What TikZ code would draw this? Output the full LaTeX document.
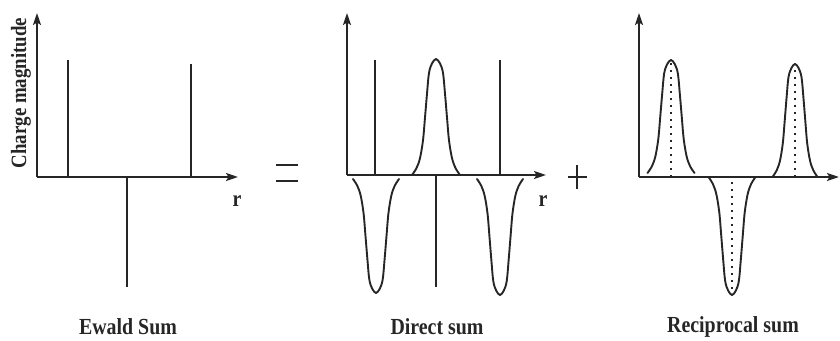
\documentclass[tikz,border=0pt]{standalone}
\usepackage{fontspec}
\setmainfont{Liberation Serif}
\usetikzlibrary{arrows.meta}
\newcommand{\tallbox}[1]{\scalebox{1.02}[1.18]{#1}}
\begin{document}
\begin{tikzpicture}[x=1pt,y=-1pt,
  ink/.style={draw=black!85},
  axis/.style={ink,line width=2pt,-{Stealth[length=12pt,width=8pt,inset=2.5pt]}},
  spike/.style={ink,line width=1.8pt},
  curve/.style={ink,line width=1.9pt,line join=round,line cap=round},
  dots/.style={ink,line width=2pt,dash pattern=on 2pt off 5pt},
  lbl/.style={font=\fontsize{19.5}{23}\selectfont\bfseries,text=black!85,inner sep=0pt},
  bump/.pic={\draw[curve] plot[smooth,tension=0.55] coordinates {(-24,0) (-19.5,7) (-16,17) (-13,35) (-11,58) (-9,82) (-7,103) (-4,112.5) (0,117) (4,112.5) (7,103) (9,82) (11,58) (13,35) (16,17) (19.5,7) (24,0)};}
]
\useasboundingbox (0,0) rectangle (840,340);

% ---------- Panel 1: Ewald sum ----------
\coordinate (o1) at (37,177);
\coordinate (y1) at (37,13);
\coordinate (x1) at (238,177);
\draw[axis] (o1) -- (y1);
\draw[axis] (o1) -- (x1);
\coordinate (a1) at (68,177);  \coordinate (a1t) at (68,60);
\coordinate (b1) at (191,177); \coordinate (b1t) at (191,64);
\coordinate (c1) at (127,177); \coordinate (c1b) at (127,287);
\draw[spike] (a1) -- (a1t);
\draw[spike] (b1) -- (b1t);
\draw[spike] (c1) -- (c1b);
\node[lbl,font=\fontsize{18.5}{22}\selectfont\bfseries,rotate=90] (ylab) at (21,93) {\tallbox{Charge magnitude}};
\node[lbl] (r1) at (237,201) {\tallbox{r}};
\node[lbl] (t1) at (128,327) {\tallbox{Ewald Sum}};

% ---------- equals sign ----------
\coordinate (e1) at (276,165); \coordinate (e2) at (298,165);
\coordinate (e3) at (276,181); \coordinate (e4) at (298,181);
\draw[spike,line width=2pt] (e1) -- (e2);
\draw[spike,line width=2pt] (e3) -- (e4);

% ---------- Panel 2: Direct sum ----------
\coordinate (o2) at (347,175);
\coordinate (y2) at (347,13);
\coordinate (x2) at (546,175);
\draw[axis] (o2) -- (y2);
\draw[axis] (o2) -- (x2);
\coordinate (a2) at (375,175); \coordinate (a2t) at (375,60);
\coordinate (b2) at (500,175); \coordinate (b2t) at (500,60);
\coordinate (c2) at (436,175); \coordinate (c2b) at (436,287);
\draw[spike] (a2) -- (a2t);
\draw[spike] (b2) -- (b2t);
\draw[spike] (c2) -- (c2b);
\pic[xscale=24/24,yscale=-116/117] at (c2) {bump};
\pic[xscale=23/24,yscale=114/117] at (376,179) {bump};
\pic[xscale=23/24,yscale=116/117] at (500,179) {bump};
\node[lbl] (r2) at (543,201) {\tallbox{r}};
\node[lbl] (t2) at (437,327) {\tallbox{Direct sum}};

% ---------- plus sign ----------
\coordinate (p1) at (568,177); \coordinate (p2) at (587,177);
\coordinate (p3) at (577,165); \coordinate (p4) at (577,189);
\draw[spike,line width=2pt] (p1) -- (p2);
\draw[spike,line width=2pt] (p3) -- (p4);

% ---------- Panel 3: Reciprocal sum ----------
\coordinate (o3) at (639,177);
\coordinate (y3) at (639,13);
\coordinate (x3) at (839,177);
\draw[axis] (o3) -- (y3);
\draw[axis] (o3) -- (x3);
\pic[xscale=23.5/24,yscale=-113/117] at (671,173) {bump};
\pic[xscale=22.5/24,yscale=-113/117] at (795,177) {bump};
\pic[xscale=23.5/24,yscale=118/117] at (732,177) {bump};
\coordinate (d1) at (671,177); \coordinate (d1t) at (671,62);
\coordinate (d2) at (795,177); \coordinate (d2t) at (795,66);
\coordinate (d3) at (732,182); \coordinate (d3b) at (732,292);
\draw[dots] (d1) -- (d1t);
\draw[dots] (d2) -- (d2t);
\draw[dots] (d3) -- (d3b);
\node[lbl] (t3) at (733,327) {\tallbox{Reciprocal sum}};
\end{tikzpicture}
\end{document}
